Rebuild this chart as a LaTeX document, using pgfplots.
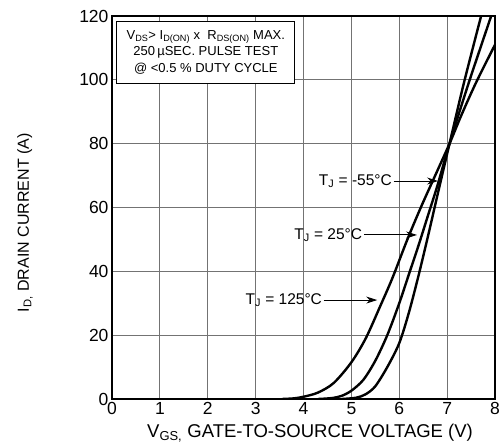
\documentclass[border=0pt]{standalone}
\usepackage{pgfplots}
\pgfplotsset{compat=1.18}
\usepackage{fontspec}
\setmainfont{Liberation Sans}
\usetikzlibrary{arrows.meta}

\begin{document}
\begin{tikzpicture}
  \begin{axis}[
    width = 383pt,
    height = 383pt,
    scale only axis,
    xmin=0, xmax=8, ymin=0, ymax=120,
    xtick={0,1,...,8},
    ytick={0,20,...,120},
    major tick length=0pt,
    grid=major,
    major grid style={line width=0.9pt, color=black!55},
    axis line style={line width=2.4pt},
    tick label style={font=\fontsize{17.5}{20}\selectfont},
    /pgf/number format/assume math mode=true,
    xlabel={V\textsubscript{GS,} GATE-TO-SOURCE VOLTAGE (V)},
    ylabel={I\textsubscript{D,} DRAIN CURRENT (A)},
    xlabel style={font=\fontsize{18.5}{21}\selectfont,
                  at={(axis description cs:0.517,-0.088)}, anchor=center},
    ylabel style={font=\fontsize{16}{19}\selectfont,
                  at={(axis description cs:-0.227,0.46)}, anchor=center},
    clip=true,
  ]

  % TJ = 125 C
  \addplot[black, line width=2.4pt, smooth] coordinates {
    (3.55,0) (3.8,0.2) (4.0,0.7) (4.3,2) (4.63,5) (5.0,11.5) (5.3,19)
    (5.6,29) (5.86,38) (6.17,50) (6.45,60) (6.75,70) (7.05,80)
    (7.3,89) (7.6,99) (8.0,111)
  };

  % TJ = 25 C
  \addplot[black, line width=2.4pt, smooth] coordinates {
    (4.3,0) (4.6,0.3) (4.8,1) (5.0,2.6) (5.25,6) (5.5,12) (5.75,20)
    (6.0,30) (6.2,39) (6.4,48) (6.6,57.5) (6.8,67) (7.05,80)
    (7.45,99) (7.92,120)
  };

  % TJ = -55 C
  \addplot[black, line width=2.4pt, smooth] coordinates {
    (4.8,0) (5.1,0.4) (5.3,1.5) (5.5,4) (5.75,10) (6.0,17.5) (6.2,27)
    (6.4,38.5) (6.6,51) (6.8,64) (7.05,80) (7.35,99) (7.71,120)
  };

  % test conditions box
  \node[draw=black, line width=0.8pt, fill=white, align=center,
        minimum width=178pt, minimum height=62pt, inner sep=2pt,
        font=\fontsize{13}{16.5}\selectfont]
    at (axis cs:1.96,108.6)
    {V\textsubscript{DS}> I\textsubscript{D(ON)} x\ \ R\textsubscript{DS(ON)} MAX.\\
     250\,µSEC. PULSE TEST\\
     @ <0.5 \% DUTY CYCLE};

  % curve labels
  \node[anchor=east, inner sep=1pt, font=\fontsize{15.5}{18}\selectfont]
    at (axis cs:5.87,68.3) {T\textsubscript{J} = -55°C};
  \draw[line width=0.9pt, -{Stealth[length=11pt,width=7pt]}]
    (axis cs:5.88,68.3) -- (axis cs:6.81,68.3);

  \node[anchor=east, inner sep=1pt, font=\fontsize{15.5}{18}\selectfont]
    at (axis cs:5.25,51.4) {T\textsubscript{J} = 25°C};
  \draw[line width=0.9pt, -{Stealth[length=11pt,width=7pt]}]
    (axis cs:5.26,51.4) -- (axis cs:6.37,51.4);

  \node[anchor=east, inner sep=1pt, font=\fontsize{15.5}{18}\selectfont]
    at (axis cs:4.41,31) {T\textsubscript{J} = 125°C};
  \draw[line width=0.9pt, -{Stealth[length=11pt,width=7pt]}]
    (axis cs:4.42,31) -- (axis cs:5.54,31);

  \end{axis}
  \pgfresetboundingbox
  \path (-112pt,-47pt) rectangle (390pt,399pt);
\end{tikzpicture}
\end{document}
